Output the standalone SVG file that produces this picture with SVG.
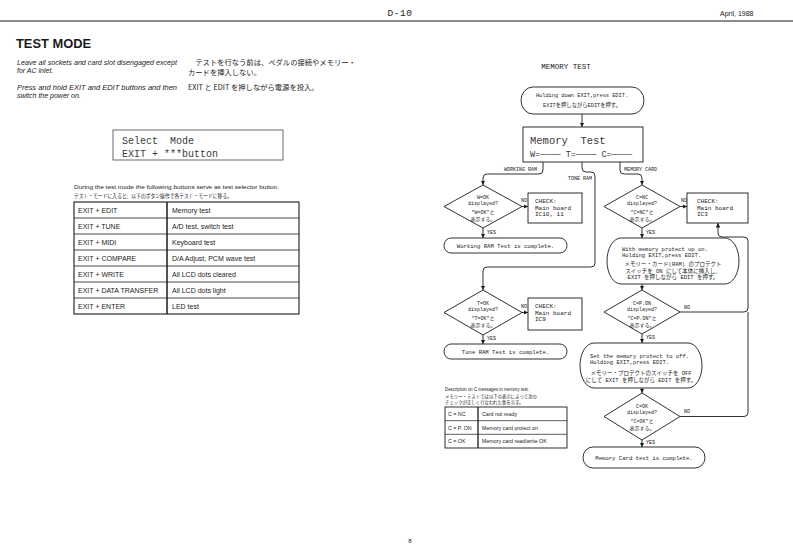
<svg xmlns="http://www.w3.org/2000/svg" width="793" height="560" viewBox="0 0 793 560">
<defs>
<style>
.t{font-family:"Liberation Sans",Arial,sans-serif;fill:#1a1a1a}
.i{font-style:italic}
.b{font-weight:700}
.jp{font-family:"Noto Sans CJK JP",sans-serif;fill:#222}
.m{font-family:"Liberation Mono","Noto Sans CJK JP",monospace;fill:#1a1a1a}
.lcd{font-family:"Liberation Mono","DejaVu Sans Mono",monospace;fill:#3a3a3a}
.c{text-anchor:middle}
.e{text-anchor:end}
.ln{fill:none;stroke:#1a1a1a;stroke-width:0.9}
.ar{fill:none;stroke:#1a1a1a;stroke-width:0.9;marker-end:url(#ah)}
.bx{fill:#fff;stroke:#1a1a1a;stroke-width:0.9}
.s5{font-size:5px}
.s55{font-size:5.5px}
.s6{font-size:6px}
</style>
<marker id="ah" viewBox="0 0 6 6" refX="6" refY="3" markerWidth="4.5" markerHeight="4.5" orient="auto" markerUnits="userSpaceOnUse"><path d="M0,0 L6,3 L0,6 z" fill="#1a1a1a"/></marker>
</defs>
<rect width="793" height="560" fill="#fff"/>

<g id="header">
<text class="m c" x="400" y="15.5" font-size="9.5" letter-spacing="0.5">D-10</text>
<text class="t" x="720" y="15.5" font-size="7">April, 1988</text>
<line x1="0" y1="21" x2="793" y2="21" stroke="#1a1a1a" stroke-width="1.2"/>
</g>

<g id="intro">
<text class="t b" x="16" y="48" font-size="12.5" textLength="75" lengthAdjust="spacingAndGlyphs">TEST MODE</text>
<text class="t i" x="17" y="65" font-size="7" textLength="160" lengthAdjust="spacingAndGlyphs">Leave all sockets and card slot disengaged except</text>
<text class="t i" x="17" y="73" font-size="7">for AC inlet.</text>
<text class="t i" x="17" y="90" font-size="7" textLength="160" lengthAdjust="spacingAndGlyphs">Press and hold EXIT and EDIT buttons and then</text>
<text class="t i" x="17" y="98" font-size="7">switch the power on.</text>
<text class="jp" x="188" y="64.5" font-size="7.3">　テストを行なう前は、ペダルの接続やメモリー・</text>
<text class="jp" x="188" y="75" font-size="7.3">カードを挿入しない。</text>
<text class="jp" x="188" y="90" font-size="7.3">EXIT と EDIT を押しながら電源を投入。</text>
</g>

<g id="lcd-select">
<rect x="113" y="130" width="170" height="30" fill="#fff" stroke="#444" stroke-width="0.8"/>
<text class="lcd" x="122" y="144" font-size="10" xml:space="preserve">Select  Mode</text>
<text class="lcd" x="122" y="157" font-size="10">EXIT + ***button</text>
</g>

<g id="button-table">
<text class="t" x="74" y="188.5" font-size="6" textLength="205" lengthAdjust="spacingAndGlyphs">During the test mode the following buttons serve as test selector button.</text>
<text class="jp" x="74" y="197.5" font-size="5.2" textLength="158" lengthAdjust="spacingAndGlyphs">テスト・モードに入ると、以下のボタン操作で各テスト・モードに移る。</text>
<rect x="74" y="202" width="225" height="112" fill="none" stroke="#1a1a1a" stroke-width="1.1"/>
<g stroke="#1a1a1a" stroke-width="0.8">
<line x1="74" y1="218" x2="299" y2="218"/>
<line x1="74" y1="234" x2="299" y2="234"/>
<line x1="74" y1="250" x2="299" y2="250"/>
<line x1="74" y1="266" x2="299" y2="266"/>
<line x1="74" y1="282" x2="299" y2="282"/>
<line x1="74" y1="298" x2="299" y2="298"/>
</g>
<line x1="167" y1="202" x2="167" y2="314" stroke="#1a1a1a" stroke-width="1.5"/>
<g class="t" font-size="7">
<text x="78" y="212.5">EXIT + EDIT</text>
<text x="78" y="228.5">EXIT + TUNE</text>
<text x="78" y="244.5">EXIT + MIDI</text>
<text x="78" y="260.5">EXIT + COMPARE</text>
<text x="78" y="276.5">EXIT + WRITE</text>
<text x="78" y="292.5">EXIT + DATA TRANSFER</text>
<text x="78" y="308.5">EXIT + ENTER</text>
<text x="172" y="212.5">Memory test</text>
<text x="172" y="228.5">A/D test, switch test</text>
<text x="172" y="244.5">Keyboard test</text>
<text x="172" y="260.5">D/A Adjust, PCM wave test</text>
<text x="172" y="276.5">All LCD dots cleared</text>
<text x="172" y="292.5">All LCD dots light</text>
<text x="172" y="308.5">LED test</text>
</g>
</g>

<text class="m c" x="566" y="69" font-size="7.5">MEMORY TEST</text>

<g id="connectors">
<path class="ar" d="M582,114 V127"/>
<path class="ar" d="M543,162 V170 Q543,174 539,174 H487 Q483,174 483,178 V185"/>
<path class="ar" d="M582,162 V168 Q582,172 586,172 H591 Q595,172 595,176 V263 Q595,267 591,267 H487 Q483,267 483,271 V290"/>
<path class="ar" d="M620,162 V170 Q620,174 624,174 H638 Q642,174 642,178 V185"/>
<path class="ar" d="M522,206.5 H528"/>
<path class="ar" d="M483,228 V238"/>
<path class="ar" d="M522,312.5 H528"/>
<path class="ar" d="M483,335 V344"/>
<path class="ar" d="M680,206.5 H687"/>
<path class="ar" d="M642,228 V238"/>
<path class="ar" d="M642,284 V290"/>
<path class="ar" d="M680,312 H744 Q748,312 748,308 V241 Q748,237 744,237 H722 Q718,237 718,233 V223"/>
<path class="ar" d="M642,334 V343"/>
<path class="ar" d="M642,388 V393"/>
<path class="ln" d="M680,416.5 H744 Q748,416.5 748,412.5 V312"/>
<path class="ar" d="M642,440 V447"/>
<g class="m s5">
<text class="e" x="537" y="171">WORKING RAM</text>
<text class="e" x="592" y="180">TONE RAM</text>
<text x="624" y="171">MEMORY CARD</text>
<text x="521" y="202">NO</text>
<text x="487" y="234">YES</text>
<text x="521" y="308">NO</text>
<text x="487" y="340">YES</text>
<text x="681" y="202">NO</text>
<text x="646" y="234">YES</text>
<text x="684" y="309">NO</text>
<text x="646" y="339">YES</text>
<text x="684" y="413">NO</text>
<text x="646" y="444">YES</text>
</g>
</g>

<g id="start">
<rect class="bx" x="521" y="87" width="123" height="27" rx="12" ry="13.5"/>
<text class="m c" x="582" y="96.5" font-size="5.3">Holding down EXIT,press EDIT.</text>
<text class="m c" x="582" y="107" font-size="5.3">EXITを押しながらEDITを押す。</text>
</g>

<g id="lcd-memory">
<rect class="bx" x="523" y="127" width="120" height="35"/>
<text class="lcd" x="530" y="144" font-size="10.5" xml:space="preserve">Memory  Test</text>
<text class="lcd" x="530" y="157" font-size="8.5">W=──── T=──── C=────</text>
</g>

<g id="dec-w">
<polygon class="bx" points="483,185 522,206.5 483,228 444,206.5"/>
<g class="m c s5">
<text x="483" y="199">W=OK</text>
<text x="483" y="205">displayed?</text>
<text x="483" y="214">"W=OK"と</text>
<text x="483" y="220.5">表示する。</text>
</g>
</g>
<g id="check-w">
<rect class="bx" x="528" y="193" width="54" height="30"/>
<g class="m s6"><text x="535" y="203">CHECK:</text><text x="535" y="209.5">Main board</text><text x="535" y="216">IC10, 11</text></g>
</g>
<g id="end-w">
<rect class="bx" x="444" y="238" width="123" height="15" rx="7" ry="7.5"/>
<text class="m c" x="505.5" y="247.5" font-size="5.6">Working RAM Test is complete.</text>
</g>

<g id="dec-t">
<polygon class="bx" points="483,290 522,312.5 483,335 444,312.5"/>
<g class="m c s5">
<text x="483" y="305">T=OK</text>
<text x="483" y="311">displayed?</text>
<text x="483" y="320">"T=OK"と</text>
<text x="483" y="326.5">表示する。</text>
</g>
</g>
<g id="check-t">
<rect class="bx" x="528" y="298" width="54" height="32"/>
<g class="m s6"><text x="535" y="308">CHECK:</text><text x="535" y="314.5">Main board</text><text x="535" y="321">IC9</text></g>
</g>
<g id="end-t">
<rect class="bx" x="444" y="344" width="123" height="15" rx="7" ry="7.5"/>
<text class="m c" x="505.5" y="353.5" font-size="5.6">Tone RAM Test is complete.</text>
</g>

<g id="c-table">
<text class="t" x="445" y="391" font-size="4.6" textLength="84" lengthAdjust="spacingAndGlyphs">Description on C messages in memory test.</text>
<text class="jp" x="445" y="397.5" font-size="4.4">メモリー・テストでは以下の表示によって次の</text>
<text class="jp" x="445" y="403.5" font-size="4.4">チェックが正しく行なわれた事を示す。</text>
<rect x="445" y="407" width="122" height="41" fill="none" stroke="#1a1a1a" stroke-width="0.9"/>
<line x1="445" y1="420.7" x2="567" y2="420.7" stroke="#1a1a1a" stroke-width="0.7"/>
<line x1="445" y1="434.3" x2="567" y2="434.3" stroke="#1a1a1a" stroke-width="0.7"/>
<line x1="478" y1="407" x2="478" y2="448" stroke="#1a1a1a" stroke-width="1.3"/>
<g class="t" font-size="5.3">
<text x="448" y="416">C = NC</text>
<text x="448" y="429.5">C = P. ON</text>
<text x="448" y="443">C = OK</text>
<text x="482" y="416">Card not ready</text>
<text x="482" y="429.5">Memory card protect on</text>
<text x="482" y="443">Memory card read/write OK</text>
</g>
</g>

<g id="dec-nc">
<polygon class="bx" points="642,185 680,206.5 642,228 604,206.5"/>
<g class="m c s5">
<text x="642" y="199">C=NC</text>
<text x="642" y="205">displayed?</text>
<text x="642" y="214">"C=NC"と</text>
<text x="642" y="220.5">表示する。</text>
</g>
</g>
<g id="check-c">
<rect class="bx" x="687" y="193" width="61" height="30"/>
<g class="m s6"><text x="697" y="203">CHECK:</text><text x="697" y="209.5">Main board</text><text x="697" y="216">IC3</text></g>
</g>
<g id="protect-on">
<rect class="bx" x="607" y="238" width="132" height="46" rx="14" ry="23"/>
<g class="m s55">
<text x="622" y="251">With memory protect up on.</text>
<text x="622" y="256.5">Holding EXIT,press EDIT.</text>
<text class="c" x="673" y="266">メモリー・カード(RAM) のプロテクト</text>
<text class="c" x="673" y="272.5">スイッチを ON にして本体に挿入し、</text>
<text class="c" x="673" y="279">EXIT を押しながら EDIT を押す。</text>
</g>
</g>
<g id="dec-pon">
<polygon class="bx" points="642,290 680,312 642,334 604,312"/>
<g class="m c s5">
<text x="642" y="305">C=P.ON</text>
<text x="642" y="311">displayed?</text>
<text x="642" y="320">"C=P.ON"と</text>
<text x="642" y="326.5">表示する。</text>
</g>
</g>
<g id="protect-off">
<rect class="bx" x="580" y="343" width="122" height="45" rx="14" ry="22.5"/>
<g class="m s55">
<text x="590" y="358">Set the memory protect to off.</text>
<text x="590" y="363.5">Holding EXIT,press EDIT.</text>
<text class="c" x="641" y="375">メモリー・プロテクトのスイッチを OFF</text>
<text class="c" x="641" y="381.5">にして EXIT を押しながら EDIT を押す。</text>
</g>
</g>
<g id="dec-ok">
<polygon class="bx" points="642,393 680,416.5 642,440 604,416.5"/>
<g class="m c s5">
<text x="642" y="408">C=OK</text>
<text x="642" y="414">displayed?</text>
<text x="642" y="423">"C=OK"と</text>
<text x="642" y="429.5">表示する。</text>
</g>
</g>
<g id="end-c">
<rect class="bx" x="583" y="447" width="122" height="21" rx="10" ry="10.5"/>
<text class="m c" x="644" y="459.5" font-size="5.6">Memory Card test is complete.</text>
</g>

<text class="t c" x="410" y="543" font-size="6">8</text>
</svg>
